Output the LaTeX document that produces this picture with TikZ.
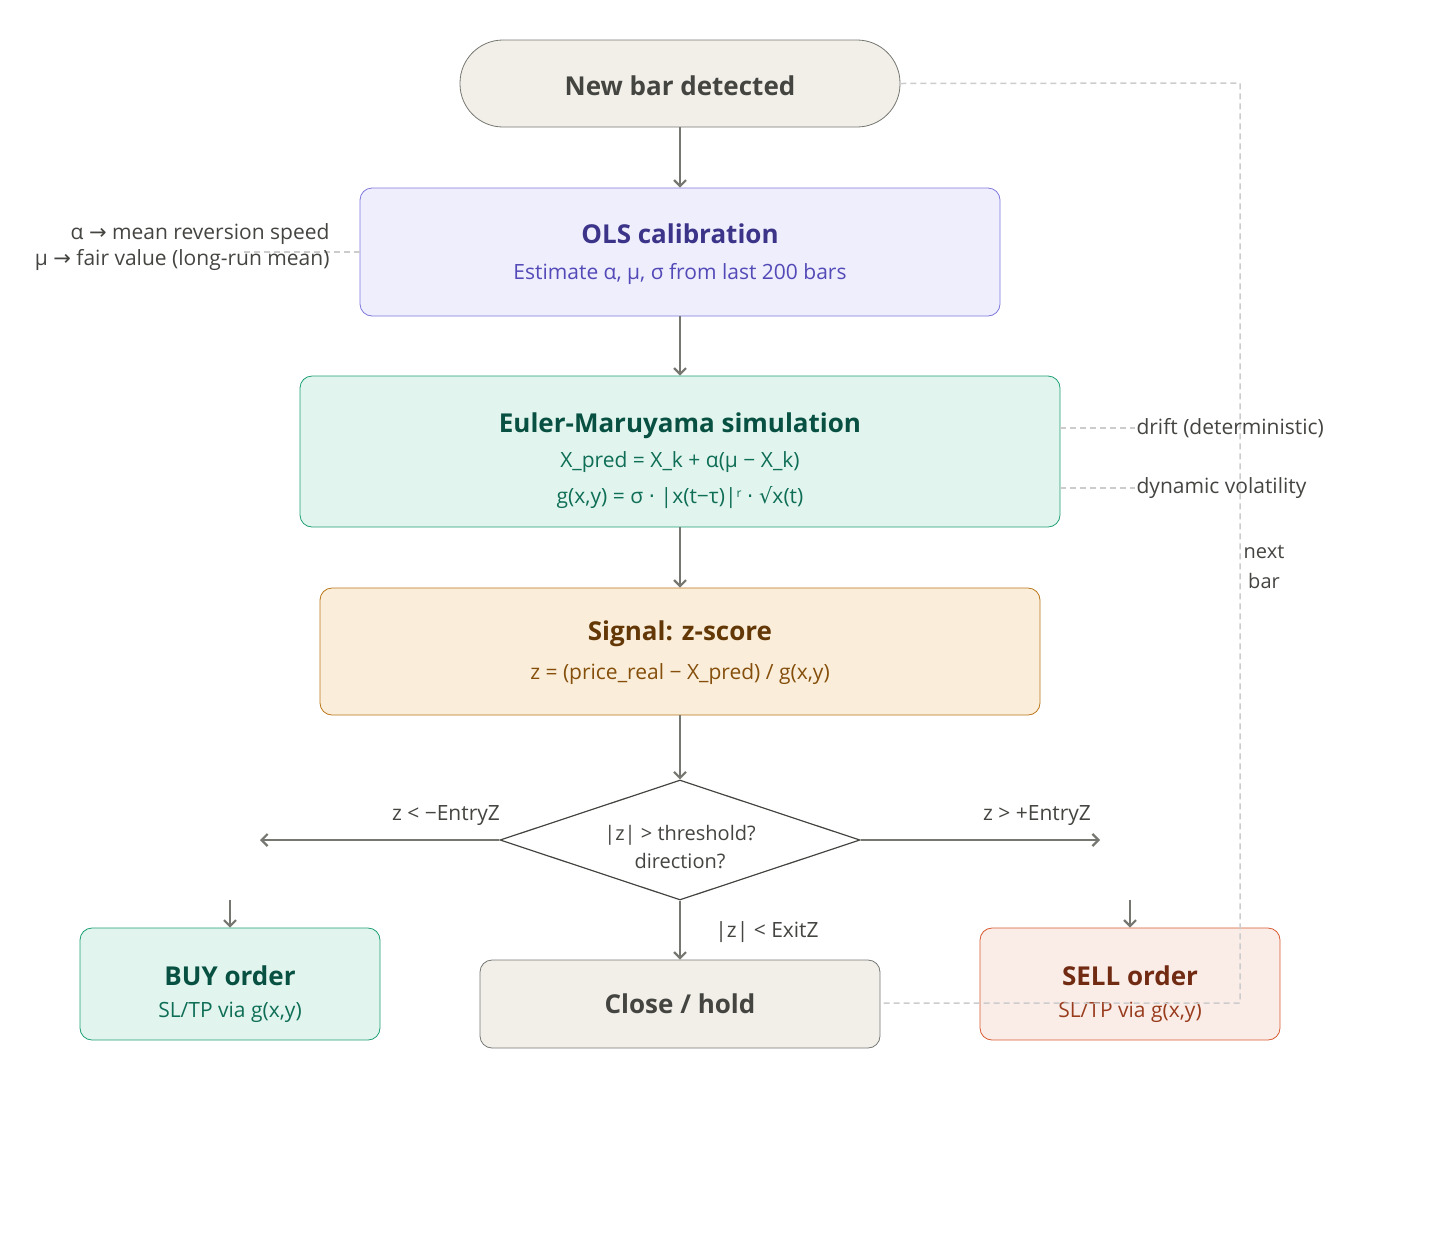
\documentclass[tikz,border=0pt]{standalone}
\usepackage{fontspec}
\setmainfont{Open Sans}
\newfontfamily\dv{DejaVu Sans}
\usetikzlibrary{shapes.geometric,arrows.meta}
\definecolor{edgec}{HTML}{777772}
\definecolor{dashc}{HTML}{CCCCCC}
\definecolor{txtc}{HTML}{444441}
\definecolor{grayf}{HTML}{F1EFE8}
\definecolor{purf}{RGB}{238,238,253}
\definecolor{purd}{RGB}{127,119,221}
\definecolor{purt}{RGB}{60,52,137}
\definecolor{purs}{RGB}{83,74,183}
\definecolor{grnf}{RGB}{225,245,238}
\definecolor{grnd}{RGB}{29,158,117}
\definecolor{grnt}{RGB}{8,80,65}
\definecolor{grns}{RGB}{15,110,86}
\definecolor{ambf}{RGB}{250,238,218}
\definecolor{ambd}{RGB}{186,117,23}
\definecolor{ambt}{RGB}{99,56,6}
\definecolor{ambs}{RGB}{133,79,11}
\definecolor{redf}{RGB}{250,236,231}
\definecolor{redd}{RGB}{216,90,48}
\definecolor{redt}{RGB}{113,43,19}
\definecolor{reds}{RGB}{153,60,29}
\tikzset{
 box/.style={draw, rounded corners=12pt, line width=0.8pt, inner sep=0pt},
 flow/.style={draw=edgec, line width=2.2pt, -{Straight Barb[length=6pt,width=12pt]}},
 dsh/.style={draw=dashc, line width=1.5pt, dash pattern=on 6pt off 4pt},
 ttl/.style={font=\fontsize{26}{30}\selectfont\bfseries},
 sub/.style={font=\fontsize{21}{26}\selectfont},
 lbl/.style={font=\fontsize{21}{26}\selectfont, text=txtc},
}
\begin{document}
\begin{tikzpicture}[x=1pt,y=-1pt]
\useasboundingbox (0,0) rectangle (1440,1240);
% nodes
\node[box, rounded corners=43pt, fill=grayf, draw=edgec, minimum width=440pt, minimum height=87pt] (new) at (680,83.5) {};
\node[ttl, text=txtc] at (680,86) {New bar detected};
\node[box, fill=purf, draw=purd, minimum width=640pt, minimum height=128pt] (ols) at (680,252) {};
\node[ttl, text=purt] at (680,234) {OLS calibration};
\node[sub, text=purs] at (680,274) {Estimate α, μ, σ from last 200 bars};
\node[box, fill=grnf, draw=grnd, minimum width=760pt, minimum height=151pt] (eul) at (680,451.5) {};
\node[ttl, text=grnt] at (680,426) {Euler-Maruyama simulation};
\node[sub, text=grns] at (680,462) {X\_pred = X\_k + α(μ − X\_k)};
\node[sub, text=grns] at (680,498) {g(x,y) = σ {\dv ·} |x(t−τ)|\raisebox{0.6ex}{\fontsize{12}{12}\selectfont r} {\dv ·} {\dv √}x(t)};
\node[box, fill=ambf, draw=ambd, minimum width=720pt, minimum height=127pt] (sig) at (680,651.5) {};
\node[ttl, text=ambt] at (680,634) {Signal: z-score};
\node[sub, text=ambs] at (680,674) {z = (price\_real − X\_pred) / g(x,y)};
\node[diamond, draw=txtc, fill=white, line width=1.2pt, minimum width=360pt, minimum height=120pt, inner sep=0pt, aspect=3] (dia) at (680,840) {};
\node[lbl, align=center, font=\fontsize{20}{28}\selectfont] at (680,847) {|z| > threshold?\\direction?};
\node[box, fill=grnf, draw=grnd, minimum width=300pt, minimum height=112pt] (buy) at (230,984) {};
\node[ttl, text=grnt] at (230,976) {BUY order};
\node[sub, text=grns] at (230,1012) {SL/TP via g(x,y)};
\node[box, fill=grayf, draw=edgec, minimum width=400pt, minimum height=88pt] (close) at (680,1004) {};
\node[ttl, text=txtc] at (680,1004) {Close / hold};
\node[box, fill=redf, draw=redd, minimum width=300pt, minimum height=112pt] (sell) at (1130,984) {};
\node[ttl, text=redt] at (1130,976) {SELL order};
\node[sub, text=reds] at (1130,1012) {SL/TP via g(x,y)};
% coordinates
\coordinate (lend) at (260,840);
\coordinate (rend) at (1100,840);
\coordinate (bs) at (230,900);
\coordinate (ss) at (1130,900);
\coordinate (c1) at (1240,83);
\coordinate (c2) at (1240,1003);
\coordinate (oa) at (240,252);
\coordinate (ea) at (1135,428);
\coordinate (eb) at (1135,488);
% dashed
\draw[dsh] (new.east) -- (c1) -- (c2) -- (close.east |- c2);
\draw[dsh] (ols.west) -- (oa);
\draw[dsh] (eul.east |- ea) -- (ea);
\draw[dsh] (eul.east |- eb) -- (eb);
% flow
\draw[flow] (new.south) -- (ols.north);
\draw[flow] (ols.south) -- (eul.north);
\draw[flow] (eul.south) -- (sig.north);
\draw[flow] (sig.south) -- (dia.north);
\draw[flow] (dia.west) -- (lend);
\draw[flow] (dia.east) -- (rend);
\draw[flow] (dia.south) -- (close.north);
\draw[flow] (bs) -- (buy.north);
\draw[flow] (ss) -- (sell.north);
% labels
\node[lbl, align=right, anchor=east] at (333,247) {α {\dv →} mean reversion speed\\μ {\dv →} fair value (long-run mean)};
\node[lbl, anchor=west] at (1133,428) {drift (deterministic)};
\node[lbl, anchor=west] at (1133,488) {dynamic volatility};
\node[lbl, align=center, font=\fontsize{20}{30}\selectfont] at (1264,567) {next\\bar};
\node[lbl] at (446,816) {z < −EntryZ};
\node[lbl] at (1037,816) {z > +EntryZ};
\node[lbl] at (767,932) {|z| < ExitZ};
\end{tikzpicture}
\end{document}
